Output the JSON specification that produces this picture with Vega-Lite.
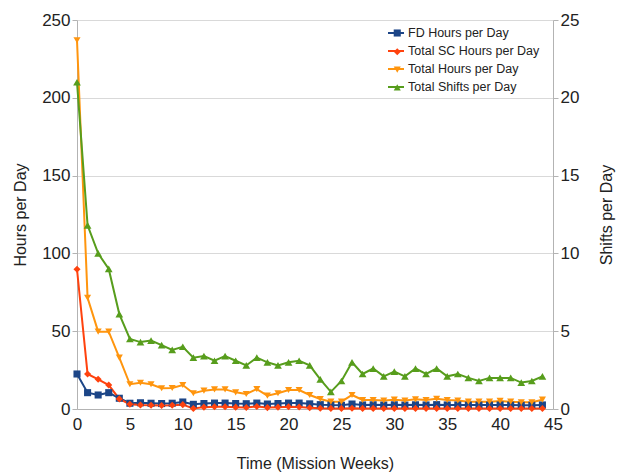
{
  "$schema": "https://vega.github.io/schema/vega-lite/v6.json",
  "width": 476,
  "height": 389,
  "autosize": {"type": "none"},
  "padding": {"left": 77, "top": 20, "right": 67, "bottom": 66},
  "background": "white",
  "config": {
    "view": {"stroke": null},
    "font": "Liberation Sans",
    "axis": {
      "labelFont": "Liberation Sans",
      "labelFontSize": 17,
      "labelColor": "#222222",
      "titleFont": "Liberation Sans",
      "titleFontSize": 16,
      "titleFontWeight": "normal",
      "titleColor": "#222222",
      "domainColor": "#b3b3b3",
      "tickColor": "#b3b3b3",
      "gridColor": "#d9d9d9"
    }
  },
  "data": {
    "values": [
      {"week": 0, "FD Hours per Day": 22.5, "Total SC Hours per Day": 89.8, "Total Hours per Day": 237, "Total Shifts per Day": 21.0},
      {"week": 1, "FD Hours per Day": 10.5, "Total SC Hours per Day": 22.5, "Total Hours per Day": 71.5, "Total Shifts per Day": 11.8},
      {"week": 2, "FD Hours per Day": 9.0, "Total SC Hours per Day": 19.1, "Total Hours per Day": 49.7, "Total Shifts per Day": 10.0},
      {"week": 3, "FD Hours per Day": 10.5, "Total SC Hours per Day": 15.4, "Total Hours per Day": 49.7, "Total Shifts per Day": 9.0},
      {"week": 4, "FD Hours per Day": 6.9, "Total SC Hours per Day": 6.5, "Total Hours per Day": 33.0, "Total Shifts per Day": 6.1},
      {"week": 5, "FD Hours per Day": 3.7, "Total SC Hours per Day": 3.0, "Total Hours per Day": 15.9, "Total Shifts per Day": 4.5},
      {"week": 6, "FD Hours per Day": 4.0, "Total SC Hours per Day": 2.6, "Total Hours per Day": 16.9, "Total Shifts per Day": 4.3},
      {"week": 7, "FD Hours per Day": 3.7, "Total SC Hours per Day": 2.4, "Total Hours per Day": 15.9, "Total Shifts per Day": 4.4},
      {"week": 8, "FD Hours per Day": 3.5, "Total SC Hours per Day": 2.3, "Total Hours per Day": 13.3, "Total Shifts per Day": 4.1},
      {"week": 9, "FD Hours per Day": 3.7, "Total SC Hours per Day": 2.4, "Total Hours per Day": 13.5, "Total Shifts per Day": 3.8},
      {"week": 10, "FD Hours per Day": 4.5, "Total SC Hours per Day": 2.8, "Total Hours per Day": 15.4, "Total Shifts per Day": 4.0},
      {"week": 11, "FD Hours per Day": 3.0, "Total SC Hours per Day": 0.3, "Total Hours per Day": 10.1, "Total Shifts per Day": 3.3},
      {"week": 12, "FD Hours per Day": 3.5, "Total SC Hours per Day": 1.2, "Total Hours per Day": 11.8, "Total Shifts per Day": 3.4},
      {"week": 13, "FD Hours per Day": 3.8, "Total SC Hours per Day": 1.5, "Total Hours per Day": 12.6, "Total Shifts per Day": 3.1},
      {"week": 14, "FD Hours per Day": 3.8, "Total SC Hours per Day": 1.4, "Total Hours per Day": 12.6, "Total Shifts per Day": 3.4},
      {"week": 15, "FD Hours per Day": 3.5, "Total SC Hours per Day": 1.2, "Total Hours per Day": 10.7, "Total Shifts per Day": 3.1},
      {"week": 16, "FD Hours per Day": 3.4, "Total SC Hours per Day": 1.0, "Total Hours per Day": 9.6, "Total Shifts per Day": 2.8},
      {"week": 17, "FD Hours per Day": 3.8, "Total SC Hours per Day": 1.6, "Total Hours per Day": 12.8, "Total Shifts per Day": 3.3},
      {"week": 18, "FD Hours per Day": 3.2, "Total SC Hours per Day": 0.9, "Total Hours per Day": 8.6, "Total Shifts per Day": 3.0},
      {"week": 19, "FD Hours per Day": 3.5, "Total SC Hours per Day": 1.2, "Total Hours per Day": 10.1, "Total Shifts per Day": 2.8},
      {"week": 20, "FD Hours per Day": 3.8, "Total SC Hours per Day": 1.4, "Total Hours per Day": 12.2, "Total Shifts per Day": 3.0},
      {"week": 21, "FD Hours per Day": 3.8, "Total SC Hours per Day": 1.3, "Total Hours per Day": 12.2, "Total Shifts per Day": 3.1},
      {"week": 22, "FD Hours per Day": 3.3, "Total SC Hours per Day": 0.8, "Total Hours per Day": 9.0, "Total Shifts per Day": 2.8},
      {"week": 23, "FD Hours per Day": 2.8, "Total SC Hours per Day": 0.5, "Total Hours per Day": 6.4, "Total Shifts per Day": 1.9},
      {"week": 24, "FD Hours per Day": 2.5, "Total SC Hours per Day": 0.4, "Total Hours per Day": 4.7, "Total Shifts per Day": 1.1},
      {"week": 25, "FD Hours per Day": 2.4, "Total SC Hours per Day": 0.4, "Total Hours per Day": 4.7, "Total Shifts per Day": 1.8},
      {"week": 26, "FD Hours per Day": 3.2, "Total SC Hours per Day": 0.5, "Total Hours per Day": 9.0, "Total Shifts per Day": 3.0},
      {"week": 27, "FD Hours per Day": 2.6, "Total SC Hours per Day": 0.4, "Total Hours per Day": 5.8, "Total Shifts per Day": 2.25},
      {"week": 28, "FD Hours per Day": 2.7, "Total SC Hours per Day": 0.4, "Total Hours per Day": 5.8, "Total Shifts per Day": 2.6},
      {"week": 29, "FD Hours per Day": 2.5, "Total SC Hours per Day": 0.3, "Total Hours per Day": 5.5, "Total Shifts per Day": 2.1},
      {"week": 30, "FD Hours per Day": 2.7, "Total SC Hours per Day": 0.4, "Total Hours per Day": 6.0, "Total Shifts per Day": 2.4},
      {"week": 31, "FD Hours per Day": 2.5, "Total SC Hours per Day": 0.3, "Total Hours per Day": 5.5, "Total Shifts per Day": 2.1},
      {"week": 32, "FD Hours per Day": 2.7, "Total SC Hours per Day": 0.4, "Total Hours per Day": 6.2, "Total Shifts per Day": 2.6},
      {"week": 33, "FD Hours per Day": 2.6, "Total SC Hours per Day": 0.4, "Total Hours per Day": 5.8, "Total Shifts per Day": 2.25},
      {"week": 34, "FD Hours per Day": 2.8, "Total SC Hours per Day": 0.4, "Total Hours per Day": 6.6, "Total Shifts per Day": 2.6},
      {"week": 35, "FD Hours per Day": 2.6, "Total SC Hours per Day": 0.3, "Total Hours per Day": 5.8, "Total Shifts per Day": 2.1},
      {"week": 36, "FD Hours per Day": 2.6, "Total SC Hours per Day": 0.3, "Total Hours per Day": 5.5, "Total Shifts per Day": 2.25},
      {"week": 37, "FD Hours per Day": 2.5, "Total SC Hours per Day": 0.3, "Total Hours per Day": 4.7, "Total Shifts per Day": 2.0},
      {"week": 38, "FD Hours per Day": 2.5, "Total SC Hours per Day": 0.3, "Total Hours per Day": 4.7, "Total Shifts per Day": 1.8},
      {"week": 39, "FD Hours per Day": 2.5, "Total SC Hours per Day": 0.3, "Total Hours per Day": 4.7, "Total Shifts per Day": 2.0},
      {"week": 40, "FD Hours per Day": 2.6, "Total SC Hours per Day": 0.3, "Total Hours per Day": 5.2, "Total Shifts per Day": 2.0},
      {"week": 41, "FD Hours per Day": 2.5, "Total SC Hours per Day": 0.3, "Total Hours per Day": 4.7, "Total Shifts per Day": 2.0},
      {"week": 42, "FD Hours per Day": 2.4, "Total SC Hours per Day": 0.3, "Total Hours per Day": 4.3, "Total Shifts per Day": 1.7},
      {"week": 43, "FD Hours per Day": 2.4, "Total SC Hours per Day": 0.3, "Total Hours per Day": 4.3, "Total Shifts per Day": 1.8},
      {"week": 44, "FD Hours per Day": 2.6, "Total SC Hours per Day": 0.3, "Total Hours per Day": 6.0, "Total Shifts per Day": 2.1}
    ]
  },
  "encoding": {
    "x": {
      "field": "week",
      "type": "quantitative",
      "scale": {"domain": [0, 45], "nice": false, "zero": true},
      "axis": {
        "title": "Time (Mission Weeks)",
        "values": [0, 5, 10, 15, 20, 25, 30, 35, 40, 45],
        "grid": false,
        "ticks": false,
        "labelPadding": 7,
        "labelFlush": false,
        "titlePadding": 23
      }
    }
  },
  "layer": [
    {
      "transform": [{"fold": ["FD Hours per Day", "Total SC Hours per Day", "Total Hours per Day"], "as": ["series", "value"]}],
      "encoding": {
        "y": {
          "field": "value",
          "type": "quantitative",
          "scale": {"domain": [0, 250], "nice": false, "zero": true},
          "axis": {
            "title": "Hours per Day",
            "values": [0, 50, 100, 150, 200, 250],
            "grid": true,
            "tickSize": 5,
            "labelPadding": 2,
            "titlePadding": 13
          }
        }
      },
      "layer": [
        {
          "mark": {"type": "line", "strokeWidth": 2},
          "encoding": {
            "stroke": {
              "field": "series",
              "type": "nominal",
              "sort": ["FD Hours per Day", "Total SC Hours per Day", "Total Hours per Day", "Total Shifts per Day"],
              "scale": {"range": ["#1c4587", "#ff420e", "#ff950e", "#579d1c"]},
              "legend": {
                "title": null,
                "orient": "none",
                "legendX": 310,
                "legendY": 4,
                "padding": 0,
                "symbolType": "stroke",
                "symbolStrokeWidth": 2,
                "symbolSize": 256,
                "rowPadding": 2,
                "labelOffset": 3,
                "labelFont": "Liberation Sans",
                "labelFontSize": 12.5,
                "labelColor": "#222222"
              }
            }
          }
        },
        {
          "mark": {"type": "point", "filled": true, "opacity": 1, "size": 50},
          "encoding": {
            "fill": {
              "field": "series",
              "type": "nominal",
              "scale": {
                "domain": ["FD Hours per Day", "Total SC Hours per Day", "Total Hours per Day", "Total Shifts per Day"],
                "range": ["#1c4587", "#ff420e", "#ff950e", "#579d1c"]
              },
              "legend": {
                "title": null,
                "orient": "none",
                "legendX": 314,
                "legendY": 6.75,
                "padding": 0,
                "symbolSize": 50,
                "symbolOpacity": 1,
                "rowPadding": 4.8,
                "labelOpacity": 0,
                "labelOffset": 0,
                "labelExpr": "' '",
                "labelFontSize": 12.5
              }
            },
            "shape": {
              "field": "series",
              "type": "nominal",
              "scale": {
                "domain": ["FD Hours per Day", "Total SC Hours per Day", "Total Hours per Day", "Total Shifts per Day"],
                "range": ["square", "diamond", "triangle-down", "triangle-up"]
              },
              "legend": {
                "title": null,
                "orient": "none",
                "legendX": 314,
                "legendY": 6.75,
                "padding": 0,
                "symbolSize": 50,
                "symbolOpacity": 1,
                "rowPadding": 4.8,
                "labelOpacity": 0,
                "labelOffset": 0,
                "labelExpr": "' '",
                "labelFontSize": 12.5
              }
            }
          }
        }
      ]
    },
    {
      "transform": [{"fold": ["Total Shifts per Day"], "as": ["series", "value"]}],
      "encoding": {
        "y": {
          "field": "value",
          "type": "quantitative",
          "scale": {"domain": [0, 25], "nice": false, "zero": true},
          "axis": {
            "title": "Shifts per Day",
            "orient": "right",
            "values": [0, 5, 10, 15, 20, 25],
            "grid": false,
            "tickSize": 5,
            "labelPadding": 2,
            "titleAngle": 270,
            "titleBaseline": "top",
            "titlePadding": 20
          }
        }
      },
      "layer": [
        {
          "mark": {"type": "line", "strokeWidth": 2},
          "encoding": {"stroke": {"field": "series", "type": "nominal", "sort": ["FD Hours per Day", "Total SC Hours per Day", "Total Hours per Day", "Total Shifts per Day"]}}
        },
        {
          "mark": {"type": "point", "filled": true, "opacity": 1, "size": 60},
          "encoding": {
            "fill": {"field": "series", "type": "nominal"},
            "shape": {"field": "series", "type": "nominal"}
          }
        }
      ]
    }
  ],
  "resolve": {"scale": {"y": "independent"}}
}
